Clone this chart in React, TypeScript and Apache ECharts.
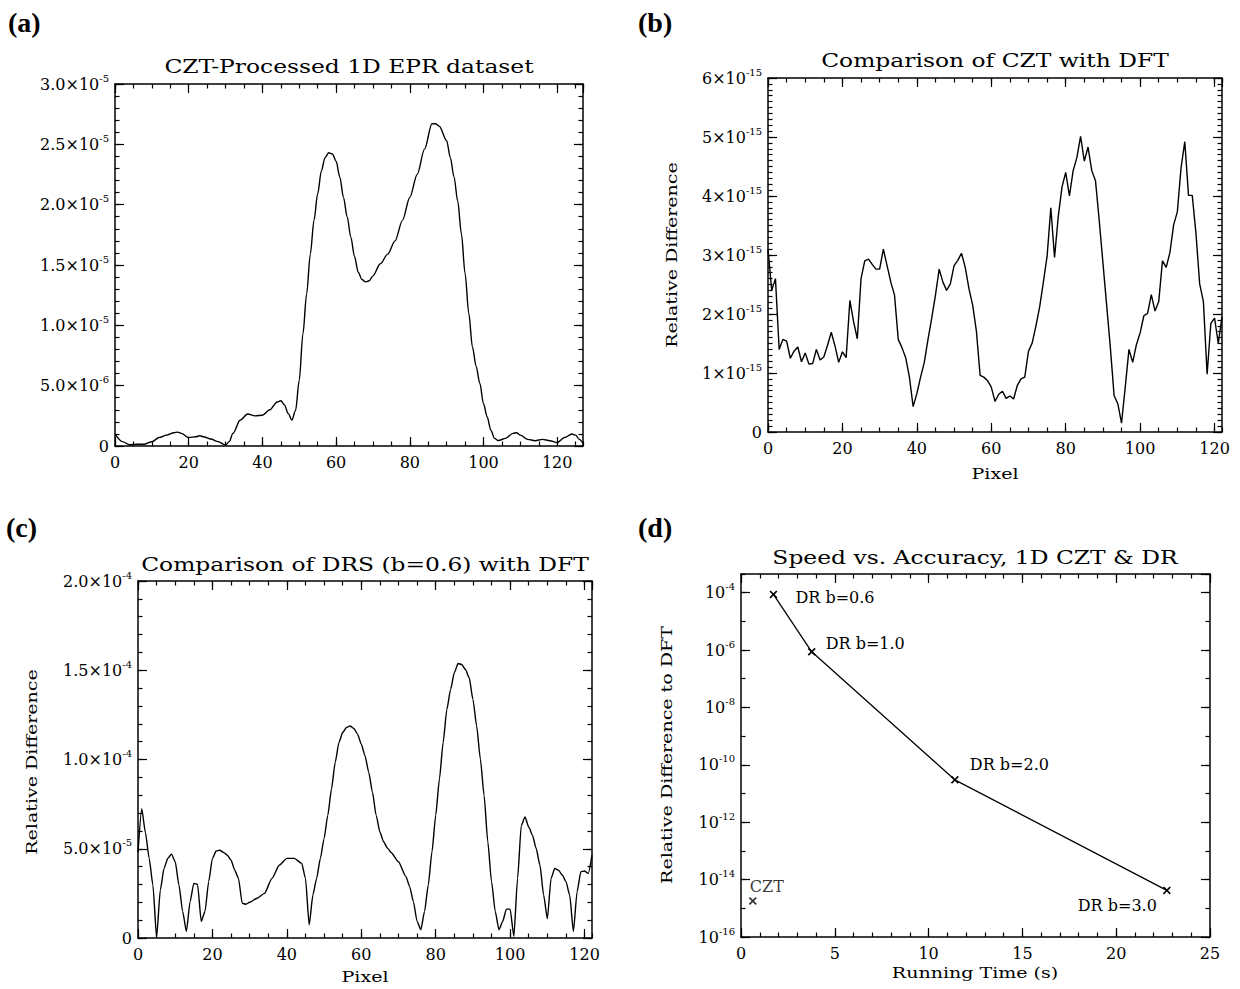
import React, { useEffect, useRef } from 'react';
import * as echarts from 'echarts';

// ---------- Panel (a): CZT-processed 1D EPR dataset (signal in units of 1e-6) ----------
const aPixel = [0, 2, 4, 6, 8, 10, 12, 14, 16, 17, 18, 20, 22, 23, 24, 26, 28, 30, 31, 32, 34, 36, 38, 40, 42, 44,
  45, 46, 47, 48, 49, 50, 51, 52, 53, 54, 55, 56, 57, 58, 59, 60, 61, 62, 63, 64, 65, 66, 67, 68, 69, 70,
  72, 74, 76, 78, 80, 82, 84, 86, 87, 88, 90, 91, 92, 93, 94, 95, 96, 97, 98, 99, 100, 101, 102, 103, 104,
  106, 108, 109, 110, 112, 114, 116, 118, 120, 122, 124, 125, 126, 127];
const aSignal = [1.0, 0.36, 0.1, 0.15, 0.15, 0.35, 0.7, 0.9, 1.1, 1.15, 1.05, 0.7, 0.77, 0.85, 0.77, 0.58, 0.36, 0.08,
  0.36, 1.05, 2.15, 2.65, 2.5, 2.55, 3.0, 3.65,
  3.75, 3.4, 2.7, 2.15, 2.95, 5.45, 9.3, 12.6, 15.9, 18.7, 20.9, 22.8, 23.9, 24.3, 24.2, 23.6, 22.3, 20.6, 19.0,
  17.3, 15.7, 14.4, 13.8, 13.6, 13.7, 14.1,
  15.1, 15.9, 17.0, 18.7, 20.6, 22.5, 24.6, 26.7, 26.7, 26.5, 25.3, 23.9, 22.3, 20.3, 17.6, 14.3, 11.0, 8.2, 6.6,
  5.2, 3.5, 2.4, 1.3, 0.63, 0.45,
  0.63, 1.05, 1.1, 0.9, 0.55, 0.44, 0.55, 0.44, 0.28, 0.7, 1.0, 0.9, 0.55, 0.22];

// ---------- Panel (b): CZT vs DFT relative difference (units of 1e-15), pixel 0..122 ----------
const bDiff = [
  3.1, 2.4, 2.6, 1.4, 1.57, 1.54, 1.25, 1.37, 1.44, 1.19,
  1.34, 1.15, 1.16, 1.4, 1.22, 1.27, 1.47, 1.69, 1.46, 1.18,
  1.36, 1.26, 2.23, 1.87, 1.58, 2.6, 2.9, 2.93, 2.84, 2.76,
  2.76, 3.1, 2.82, 2.54, 2.32, 1.57, 1.43, 1.26, 0.93, 0.43,
  0.65, 0.93, 1.18, 1.57, 1.93, 2.32, 2.76, 2.54, 2.4, 2.51,
  2.82, 2.91, 3.03, 2.79, 2.43, 2.15, 1.71, 0.96, 0.93, 0.87,
  0.76, 0.52, 0.64, 0.69, 0.57, 0.61, 0.56, 0.79, 0.9, 0.93,
  1.37, 1.51, 1.8, 2.12, 2.54, 2.98, 3.8, 2.96, 3.65, 4.15,
  4.4, 4.0, 4.43, 4.65, 5.01, 4.59, 4.83, 4.43, 4.26, 3.59,
  2.87, 2.15, 1.43, 0.62, 0.48, 0.15, 0.76, 1.4, 1.18, 1.48,
  1.68, 1.97, 2.01, 2.33, 2.05, 2.21, 2.9, 2.79, 3.04, 3.51,
  3.73, 4.48, 4.92, 4.01, 4.01, 3.37, 2.51, 2.21, 0.98, 1.84,
  1.93, 1.5, 1.95];

// ---------- Panel (c): DRS (b=0.6) vs DFT relative difference (units of 1e-5) ----------
const cPixel = [0, 1, 2, 3, 4, 5, 6, 7, 8, 9, 10, 11, 12, 13, 14, 15, 16, 17, 18, 19, 20, 21, 22, 23, 24, 25, 26, 27,
  28, 29, 30, 32, 34, 36, 38, 40, 42, 44, 45, 46, 47, 48, 49, 50, 51, 52, 53, 54, 55, 56, 57, 58, 59, 60, 61, 62,
  63, 64, 65, 66, 67, 68, 70, 72, 73, 74, 75, 76, 77, 78, 79, 80, 81, 82, 83, 84, 85, 86, 87, 88, 89, 90, 91, 92,
  93, 94, 95, 96, 97, 98, 99, 100, 101, 102, 103, 104, 105, 106, 107, 108, 109, 110, 111, 112, 113, 114, 115, 116,
  117, 118, 119, 120, 121, 122];
const cDiff = [4.8, 7.24, 5.9, 4.46, 2.97, 0.04, 2.7, 3.9, 4.46, 4.7, 4.27, 2.97, 1.49, 0.37, 2.04, 3.06, 3.0, 0.93,
  1.49, 3.16, 4.46, 4.87, 4.92, 4.79, 4.64, 4.36, 3.8, 3.34,
  1.95, 1.89, 2.0, 2.23, 2.5, 3.34, 4.09, 4.46, 4.46, 4.18, 3.34, 0.74, 2.41, 3.34, 4.46, 5.57, 6.87, 8.36, 9.84,
  10.96, 11.51, 11.79, 11.88, 11.74, 11.42, 10.86, 10.21, 9.29,
  8.17, 6.87, 5.94, 5.39, 5.05, 4.79, 4.27, 3.44, 2.88, 2.04, 0.93, 0.46, 1.49, 2.97, 4.83, 6.87, 8.91, 10.96,
  12.81, 13.93, 14.86, 15.38, 15.32, 15.04, 14.58, 13.37, 11.88, 10.03,
  7.99, 5.39, 3.16, 1.49, 0.46, 0.93, 1.62, 1.62, 0.09, 3.34, 6.31, 6.78, 6.22, 5.76, 5.01, 4.09, 2.41, 1.08,
  3.34, 3.9, 3.8, 3.53, 3.16, 2.41,
  0.37, 2.6, 3.71, 3.75, 3.62, 4.64];

// ---------- Panel (d): Speed vs accuracy ----------
const drNames = ['DR b=0.6', 'DR b=1.0', 'DR b=2.0', 'DR b=3.0'];
const drTime = [1.73, 3.77, 11.4, 22.7];
const drError = [8.7e-5, 8.7e-7, 3.0e-11, 4.2e-15];
const cztName = ['CZT'];
const cztTime = [0.63];
const cztError = [1.8e-15];

// tick label helpers
const xTicksPixel = { min: 0, major: 20, minor: 5 };

const FONT = '"DejaVu Serif", serif';
const BLACK = '#000';

const rich = {
  m: { fontSize: 16, fontFamily: FONT, color: BLACK },
  e: { fontSize: 10, fontFamily: FONT, color: BLACK, padding: [0, 0, 12, 0] },
};

function sciFormatter(decimals: number, unitPow: number) {
  return (v: number) => {
    if (Math.abs(v) < 1e-9) return '{m|0}';
    const real = v * Math.pow(10, unitPow);
    const e = Math.floor(Math.log10(Math.abs(real)) + 1e-9);
    const m = real / Math.pow(10, e);
    return `{m|${m.toFixed(decimals)}×10}{e|${e}}`;
  };
}
const powFormatter = (v: number) => `{m|10}{e|${Math.round(v)}}`;

type Spec = { min: number; max: number; major: number; minor: number };

function axesFor(grid: number, xs: Spec, ys: Spec, xLabel: any, yLabel: any) {
  const line = { show: true, onZero: false, lineStyle: { color: BLACK, width: 1.5 } };
  const noLine = { show: false, onZero: false };
  const tick = (len: number) => ({ show: true, inside: true, length: len, lineStyle: { color: BLACK, width: 1.2 } });
  const hidden = { show: false };
  const base = (s: Spec, pos: string, major: boolean, showLine: boolean, label: any) => ({
    gridIndex: grid,
    type: 'value',
    position: pos,
    min: s.min,
    max: s.max,
    interval: major ? s.major : s.minor,
    axisLine: showLine ? line : noLine,
    axisTick: tick(major ? 9 : 4.5),
    axisLabel: label,
    splitLine: { show: false },
    minorTick: { show: false },
  });
  const x = [
    base(xs, 'bottom', true, true, xLabel),
    base(xs, 'bottom', false, false, hidden),
    base(xs, 'top', true, true, hidden),
    base(xs, 'top', false, false, hidden),
  ];
  const y = [
    base(ys, 'left', true, true, yLabel),
    base(ys, 'left', false, false, hidden),
    base(ys, 'right', true, true, hidden),
    base(ys, 'right', false, false, hidden),
  ];
  return { x, y };
}

const xLab = (showMax: boolean) => ({
  show: true, fontSize: 16, fontFamily: FONT, color: BLACK, margin: 8, showMaxLabel: showMax, showMinLabel: true,
});
const yLab = (formatter: any, showMax: boolean) => ({
  show: true, formatter, rich, margin: 6, showMaxLabel: showMax, showMinLabel: true, color: BLACK,
});

const drPlacement = [
  { position: 'right', distance: 18, offset: [0, 3] },
  { position: 'right', distance: 10, offset: [0, -8] },
  { position: 'right', distance: 11, offset: [0, -15] },
  { position: 'left', distance: 6, offset: [0, 15] },
];

const XMARK = 'path://M0,1.5L1.5,0L5,3.5L8.5,0L10,1.5L6.5,5L10,8.5L8.5,10L5,6.5L1.5,10L0,8.5L3.5,5Z';

function textEl(text: string, x: number, y: number, opts: any = {}) {
  const align = opts.align || 'center';
  return {
    type: 'text',
    x,
    y,
    rotation: opts.rotation || 0,
    scaleX: opts.scaleX || 1,
    scaleY: 1,
    style: {
      text,
      font: opts.font || `18px ${FONT}`,
      fill: BLACK,
      align,
      textAlign: align,
      verticalAlign: 'middle',
      textVerticalAlign: 'middle',
    },
  };
}

function buildOption() {
  const a = axesFor(0, { ...xTicksPixel, max: 127 }, { min: 0, max: 30, major: 5, minor: 1 },
    xLab(false), yLab(sciFormatter(1, -6), true));
  const b = axesFor(1, { ...xTicksPixel, max: 122 }, { min: 0, max: 6, major: 1, minor: 0.1 },
    xLab(false), yLab(sciFormatter(0, -15), true));
  const c = axesFor(2, { ...xTicksPixel, max: 122 }, { min: 0, max: 20, major: 5, minor: 1 },
    xLab(false), yLab(sciFormatter(1, -5), true));
  const d = axesFor(3, { min: 0, max: 25, major: 5, minor: 1 }, { min: -16, max: -3.35, major: 2, minor: 1 },
    xLab(true), yLab(powFormatter, false));

  const lineStyle = { color: BLACK, width: 1.4 };
  const titleFont = `18px ${FONT}`;
  const nameFont = `15px ${FONT}`;
  const letterFont = `bold 28px "Liberation Serif", "Times New Roman", serif`;

  return {
    animation: false,
    backgroundColor: '#fff',
    grid: [
      { left: 115, top: 84, width: 468, height: 362 },
      { left: 768, top: 78, width: 454, height: 354 },
      { left: 138, top: 581, width: 454, height: 357 },
      { left: 741, top: 574, width: 469, height: 363 },
    ],
    xAxis: [...a.x, ...b.x, ...c.x, ...d.x],
    yAxis: [...a.y, ...b.y, ...c.y, ...d.y],
    series: [
      {
        type: 'line', xAxisIndex: 0, yAxisIndex: 0, showSymbol: false, smooth: 0.3, smoothMonotone: 'x',
        lineStyle, data: aPixel.map((p, i) => [p, aSignal[i]]),
      },
      {
        type: 'line', xAxisIndex: 4, yAxisIndex: 4, showSymbol: false, smooth: false,
        lineStyle, data: bDiff.map((v, i) => [i, v]),
      },
      {
        type: 'line', xAxisIndex: 8, yAxisIndex: 8, showSymbol: false, smooth: 0.2, smoothMonotone: 'x',
        lineStyle, data: cPixel.map((p, i) => [p, cDiff[i]]),
      },
      {
        type: 'line', xAxisIndex: 12, yAxisIndex: 12, symbol: XMARK, symbolSize: 8, showSymbol: true,
        itemStyle: { color: BLACK }, lineStyle: { color: BLACK, width: 1.3 },
        data: drTime.map((t, i) => ({
          name: drNames[i],
          value: [t, Math.log10(drError[i])],
          label: {
            show: true, formatter: '{b}', fontSize: 16, fontFamily: FONT, color: BLACK,
            ...drPlacement[i],
          },
        })),
      },
      {
        type: 'scatter', xAxisIndex: 12, yAxisIndex: 12, symbol: XMARK, symbolSize: 8,
        itemStyle: { color: BLACK },
        data: cztTime.map((t, i) => ({
          name: cztName[i],
          value: [t, Math.log10(cztError[i])],
          label: {
            show: true, formatter: '{b}', fontSize: 16, fontFamily: FONT, color: BLACK,
            position: 'top', distance: 2, offset: [14, 0],
          },
        })),
      },
    ],
    graphic: [
      textEl('(a)', 8, 22, { font: letterFont, align: 'left' }),
      textEl('(b)', 638, 22, { font: letterFont, align: 'left' }),
      textEl('(c)', 6, 527, { font: letterFont, align: 'left' }),
      textEl('(d)', 638, 527, { font: letterFont, align: 'left' }),
      textEl('CZT-Processed 1D EPR dataset', 349, 67, { font: titleFont, scaleX: 1.3 }),
      textEl('Comparison of CZT with DFT', 995, 61, { font: titleFont, scaleX: 1.3 }),
      textEl('Comparison of DRS (b=0.6) with DFT', 365, 565, { font: titleFont, scaleX: 1.3 }),
      textEl('Speed vs. Accuracy, 1D CZT & DR', 975, 558, { font: titleFont, scaleX: 1.3 }),
      textEl('Relative Difference', 672, 255, { font: nameFont, scaleX: 1.27, rotation: Math.PI / 2 }),
      textEl('Pixel', 995, 474, { font: nameFont, scaleX: 1.27 }),
      textEl('Relative Difference', 32, 762, { font: nameFont, scaleX: 1.27, rotation: Math.PI / 2 }),
      textEl('Pixel', 365, 977, { font: nameFont, scaleX: 1.27 }),
      textEl('Relative Difference to DFT', 667, 755, { font: nameFont, scaleX: 1.27, rotation: Math.PI / 2 }),
      textEl('Running Time (s)', 975, 973, { font: nameFont, scaleX: 1.27 }),
    ],
  };
}

export default function App() {
  const ref = useRef<HTMLDivElement>(null);
  useEffect(() => {
    if (!ref.current) return;
    const chart = echarts.init(ref.current, null, { renderer: 'svg' });
    chart.setOption(buildOption() as any);
    return () => chart.dispose();
  }, []);
  return (
    <div
      ref={ref}
      style={{ position: 'absolute', left: 0, top: 0, width: 1240, height: 989, background: '#fff' }}
    />
  );
}
